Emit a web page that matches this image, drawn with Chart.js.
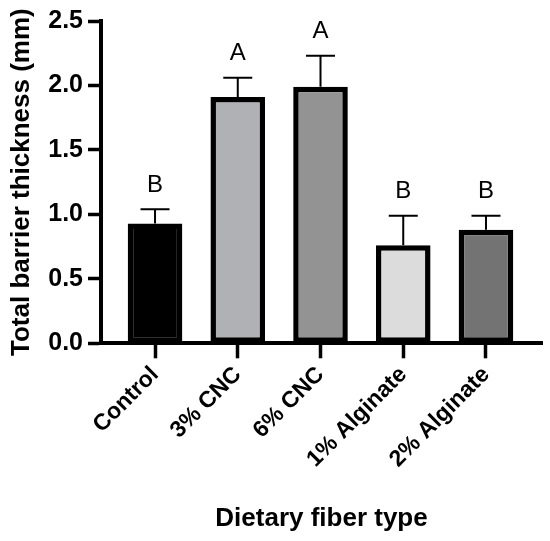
<!DOCTYPE html>
<html>
<head>
<meta charset="utf-8">
<script src="https://cdn.jsdelivr.net/npm/chart.js@4.4.1/dist/chart.umd.min.js"></script>
<style>
  body { margin: 0; background: #fff; }
  #wrap { width: 550px; height: 541px; }
</style>
</head>
<body>
<div id="wrap"><canvas id="chart" width="550" height="541"></canvas></div>
<script>
// Datos
const categories = ['Control', '3% CNC', '6% CNC', '1% Alginate', '2% Alginate'];
const means = [0.93, 1.91, 1.99, 0.76, 0.88];
const errors = [0.11, 0.15, 0.24, 0.23, 0.11];
const letters = ['B', 'A', 'A', 'B', 'B'];
const barColors = ['#000000', '#b0b1b4', '#939393', '#dcdcdc', '#737373'];
const yTicks = [0, 0.5, 1.0, 1.5, 2.0, 2.5];

const FONT = "Arial, 'Liberation Sans', sans-serif";
Chart.defaults.font.family = FONT;
Chart.defaults.color = '#000';

// Barras de error (solo hacia arriba) y letras de significancia
const errorBars = {
    id: 'errorBars',
    afterDatasetsDraw(chart) {
        const ctx = chart.ctx;
        const xs = chart.scales.x, ys = chart.scales.y;
        ctx.save();
        ctx.strokeStyle = '#000';
        ctx.lineWidth = 2;
        means.forEach((m, i) => {
            const x = xs.getPixelForValue(i);
            const yBar = ys.getPixelForValue(m);
            const yTop = ys.getPixelForValue(m + errors[i]);
            ctx.beginPath();
            ctx.moveTo(x, yBar);
            ctx.lineTo(x, yTop);
            ctx.moveTo(x - 14.5, yTop);
            ctx.lineTo(x + 14.5, yTop);
            ctx.stroke();
            ctx.fillStyle = '#000';
            ctx.font = '24px ' + FONT;
            ctx.textAlign = 'center';
            ctx.textBaseline = 'middle';
            ctx.fillText(letters[i], x, yTop - 24);
        });
        ctx.restore();
    }
};

new Chart(document.getElementById('chart'), {
    type: 'bar',
    data: {
        datasets: [{
            data: means.map((v, i) => ({ x: i, y: v })),
            backgroundColor: barColors,
            borderColor: '#000',
            borderWidth: 5.5,
            borderSkipped: false,
            barPercentage: 0.66,
            categoryPercentage: 1
        }]
    },
    options: {
        responsive: false,
        animation: false,
        layout: { padding: { top: 21, right: 8, left: 0, bottom: 0 } },
        plugins: { legend: { display: false }, tooltip: { enabled: false } },
        scales: {
            x: {
                type: 'linear',
                min: -0.653,
                max: 4.677,
                offset: false,
                afterBuildTicks: s => { s.ticks = categories.map((c, i) => ({ value: i })); },
                afterFit: s => { s.height = 197.7; },
                grid: { drawOnChartArea: false, offset: false, color: '#000', tickLength: 15, tickWidth: 3.5 },
                border: { color: '#000', width: 4 },
                ticks: {
                    minRotation: 45,
                    maxRotation: 45,
                    padding: 3,
                    font: { size: 23, weight: 'bold' },
                    callback: v => categories[v] ?? ''
                },
                title: {
                    display: true,
                    text: 'Dietary fiber type',
                    font: { size: 26, weight: 'bold' },
                    padding: { top: 0, bottom: 7 }
                }
            },
            y: {
                min: 0,
                max: 2.5,
                afterBuildTicks: s => { s.ticks = yTicks.map(v => ({ value: v })); },
                afterFit: s => { s.width = 101; },
                grid: { drawOnChartArea: false, color: '#000', tickLength: 13, tickWidth: 3.5 },
                border: { color: '#000', width: 4 },
                ticks: {
                    padding: 5,
                    font: { size: 25, weight: 'bold' },
                    callback: v => v.toFixed(1)
                },
                title: {
                    display: true,
                    text: 'Total barrier thickness (mm)',
                    font: { size: 26, weight: 'bold' },
                    padding: { top: 6, bottom: 0 }
                }
            }
        }
    },
    plugins: [errorBars]
});
</script>
</body>
</html>
